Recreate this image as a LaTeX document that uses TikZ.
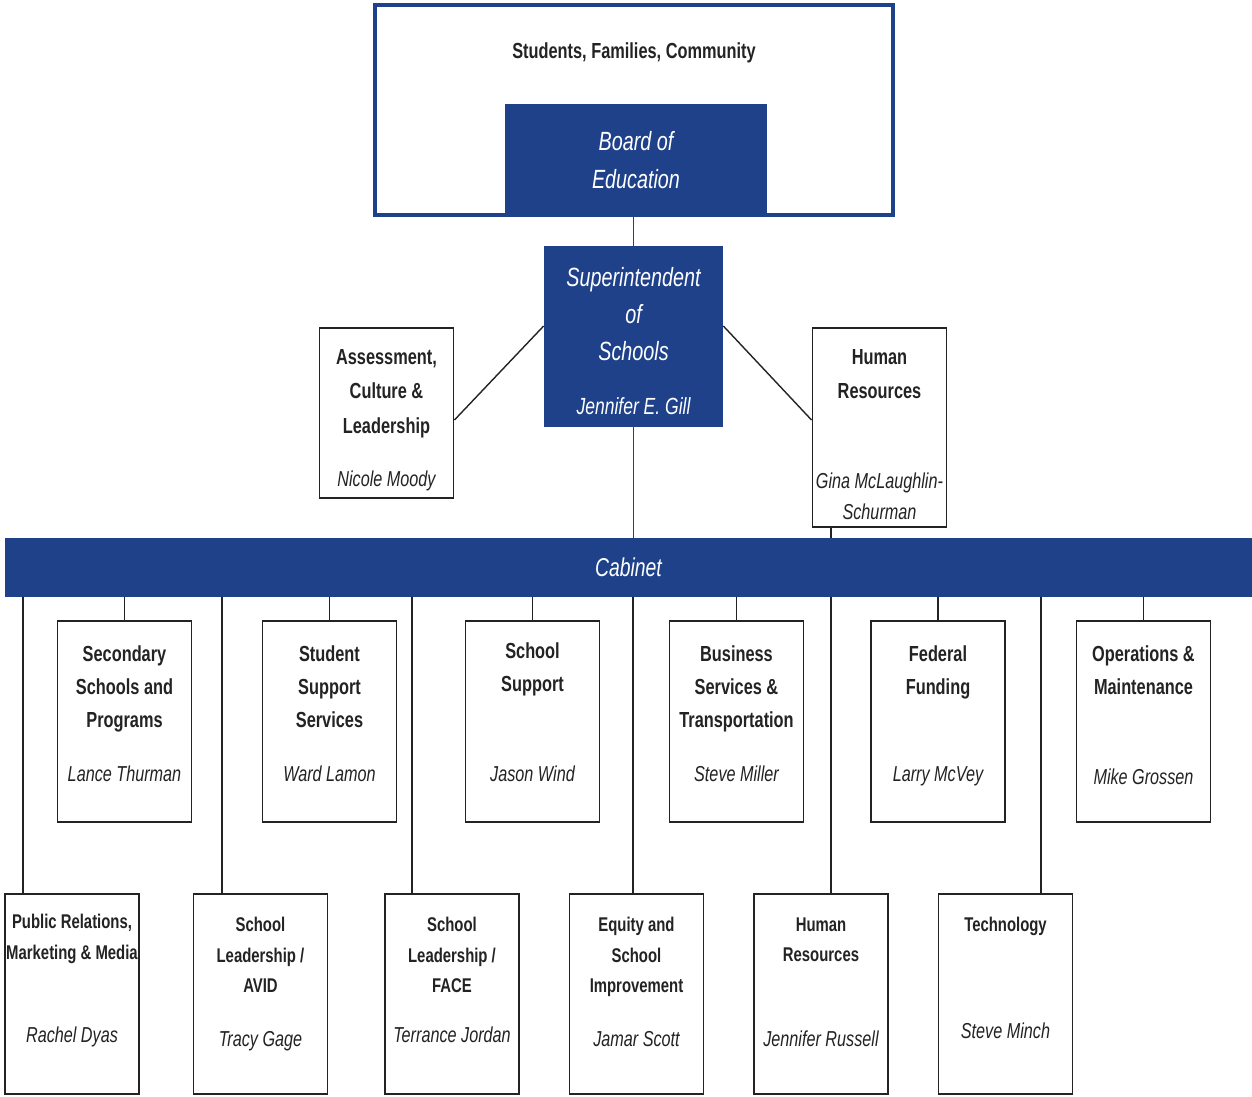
\documentclass[tikz,border=0pt]{standalone}
\usepackage{fontspec}
\setmainfont{Liberation Sans}[FakeStretch=0.75]
\usetikzlibrary{positioning}
\definecolor{boardblue}{RGB}{30,65,138}
\definecolor{ink}{RGB}{35,35,35}
\tikzstyle{Office} = [fill=boardblue, rectangle, inner sep=0pt]
\tikzstyle{Unit} = [draw=ink, line width=1.1pt, fill=white, rectangle, inner sep=0pt, minimum width=2.68cm]
\tikzstyle{Title} = [align=center, inner sep=0pt, text=ink, font=\bfseries\fontsize{12.4}{18.8}\selectfont]
\tikzstyle{SmallTitle} = [Title, font=\bfseries\fontsize{11.3}{17.4}\selectfont]
\tikzstyle{Person} = [inner sep=0pt, text=ink, font=\itshape\fontsize{12.3}{17.6}\selectfont, text height=9pt, text depth=2.5pt]
\tikzstyle{Lead} = [align=center, inner sep=0pt, text=white, font=\itshape\fontsize{15}{21.3}\selectfont]
\tikzstyle{Link} = [draw=ink, line width=0.8pt]
\tikzstyle{BlueLink} = [draw=boardblue, line width=1pt]

\begin{document}
\begin{tikzpicture}[x=0.02cm, y=-0.02cm]
  \useasboundingbox (0,0) rectangle (1252,1097);

  % governance
  \node[draw=boardblue, line width=1.8pt, minimum width=10.36cm, minimum height=4.2cm, inner sep=0pt] (community) at (634,110) {};
  \node[Title] (community-title) [below=0.78cm of community.north] {Students, Families, Community};
  \node[Office, Lead, minimum width=5.24cm, minimum height=2.26cm, font=\itshape\fontsize{15}{21.6}\selectfont] (board) at (636,160.5) {Board of\\Education};
  \node[Office, minimum width=3.58cm, minimum height=3.62cm] (superintendent) at (633.5,336.5) {};
  \node[Lead] (superintendent-title) [below=0.42cm of superintendent.north] {Superintendent\\of\\Schools};
  \node[Lead, font=\itshape\fontsize{13.3}{18}\selectfont, text height=9pt, text depth=2.5pt] (superintendent-name) [above=0.17cm of superintendent.south] {Jennifer E. Gill};

  \node[Unit, minimum height=3.4cm] (assessment) at (386.5,413) {};
  \node[Title, font=\bfseries\fontsize{12.4}{19.6}\selectfont] (assessment-title) [below=0.44cm of assessment.north] {Assessment,\\Culture \&\\Leadership};
  \node[Person] (assessment-name) [above=0.15cm of assessment.south] {Nicole Moody};

  \node[Unit, minimum height=3.98cm] (humanres) at (879.5,427.5) {};
  \node[Title, font=\bfseries\fontsize{12.4}{19.6}\selectfont] (humanres-title) [below=0.44cm of humanres.north] {Human\\Resources};
  \node[Person, align=center, text height=, text depth=] (humanres-name) [above=0.16cm of humanres.south] {Gina McLaughlin-\\Schurman};

  \node[Office, minimum width=24.94cm, minimum height=1.18cm, text=white, font=\itshape\fontsize{14.7}{18}\selectfont] (cabinet) at (628.5,567.5) {Cabinet};

  % cabinet, upper row
  \node[Unit, minimum height=4.02cm] (secondary) at (124.5,721.5) {};
  \node[Unit, minimum height=4.02cm] (studentsupport) at (329.5,721.5) {};
  \node[Unit, minimum height=4.02cm] (schoolsupport) at (532.5,721.5) {};
  \node[Unit, minimum height=4.02cm] (business) at (736.5,721.5) {};
  \node[Unit, minimum height=4.02cm] (federal) at (938,721.5) {};
  \node[Unit, minimum height=4.02cm] (operations) at (1143.5,721.5) {};

  \node[Title] (secondary-title) [below=0.5cm of secondary.north] {Secondary\\Schools and\\Programs};
  \node[Title] (studentsupport-title) [below=0.5cm of studentsupport.north] {Student\\Support\\Services};
  \node[Title] (schoolsupport-title) [below=0.44cm of schoolsupport.north] {School\\Support};
  \node[Title] (business-title) [below=0.5cm of business.north] {Business\\Services \&\\Transportation};
  \node[Title] (federal-title) [below=0.5cm of federal.north] {Federal\\Funding};
  \node[Title] (operations-title) [below=0.5cm of operations.north] {Operations \&\\Maintenance};

  \node[Person] (secondary-name) [above=0.73cm of secondary.south] {Lance Thurman};
  \node[Person] (studentsupport-name) [above=0.73cm of studentsupport.south] {Ward Lamon};
  \node[Person] (schoolsupport-name) [above=0.73cm of schoolsupport.south] {Jason Wind};
  \node[Person] (business-name) [above=0.73cm of business.south] {Steve Miller};
  \node[Person] (federal-name) [above=0.73cm of federal.south] {Larry McVey};
  \node[Person] (operations-name) [above=0.67cm of operations.south] {Mike Grossen};

  % cabinet, lower row
  \node[Unit, minimum height=4cm] (publicrel) at (72,994) {};
  \node[Unit, minimum height=4cm] (avid) at (260.5,994) {};
  \node[Unit, minimum height=4cm] (face) at (452,994) {};
  \node[Unit, minimum height=4cm] (equity) at (636.5,994) {};
  \node[Unit, minimum height=4cm] (hr) at (821,994) {};
  \node[Unit, minimum height=4cm] (technology) at (1005.5,994) {};

  \node[SmallTitle] (publicrel-title) [below=0.42cm of publicrel.north] {Public Relations,\\Marketing \& Media};
  \node[SmallTitle] (avid-title) [below=0.48cm of avid.north] {School\\Leadership /\\AVID};
  \node[SmallTitle] (face-title) [below=0.48cm of face.north] {School\\Leadership /\\FACE};
  \node[SmallTitle] (equity-title) [below=0.48cm of equity.north] {Equity and\\School\\Improvement};
  \node[SmallTitle] (hr-title) [below=0.48cm of hr.north] {Human\\Resources};
  \node[SmallTitle] (technology-title) [below=0.48cm of technology.north] {Technology};

  \node[Person] (publicrel-name) [above=0.95cm of publicrel.south] {Rachel Dyas};
  \node[Person] (avid-name) [above=0.87cm of avid.south] {Tracy Gage};
  \node[Person] (face-name) [above=0.95cm of face.south] {Terrance Jordan};
  \node[Person] (equity-name) [above=0.87cm of equity.south] {Jamar Scott};
  \node[Person] (hr-name) [above=0.87cm of hr.south] {Jennifer Russell};
  \node[Person] (technology-name) [above=1.03cm of technology.south] {Steve Minch};

  % lines
  \draw[BlueLink] (superintendent.north) -- (superintendent.north |- board.south);
  \draw[BlueLink] (superintendent.south) -- (superintendent.south |- cabinet.north);
  \draw[Link] ([yshift=-0.14cm]assessment.east) -- ([yshift=0.21cm]superintendent.west);
  \draw[Link] ([yshift=0.21cm]superintendent.east) -- ([yshift=0.15cm]humanres.west);
  \draw[Link] ([xshift=-0.97cm]humanres.south) -- ([xshift=-0.97cm]humanres.south |- cabinet.north);
  \foreach \n in {secondary,studentsupport,schoolsupport,business,federal,operations}
    \draw[Link] (\n.north) -- (\n.north |- cabinet.south);
  \foreach \n/\dx in {publicrel/-0.98,avid/-0.77,face/-0.8,equity/-0.07,hr/0.2,technology/0.71}
    \draw[Link] ([xshift=\dx cm]\n.north) -- ([xshift=\dx cm]\n.north |- cabinet.south);
\end{tikzpicture}
\end{document}
